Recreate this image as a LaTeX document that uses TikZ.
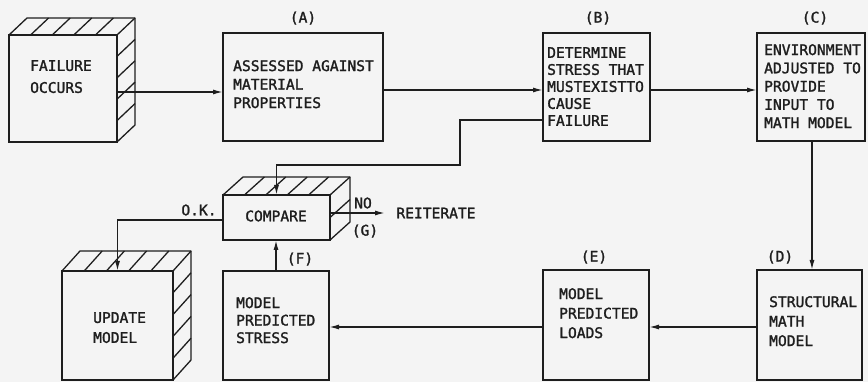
\documentclass[tikz,border=0pt]{standalone}
\usepackage{fontspec}
\setmainfont{DejaVu Sans Mono}[FakeBold=1.6]
\usetikzlibrary{calc,arrows.meta}
\definecolor{ink}{RGB}{30,30,30}
\definecolor{bg}{RGB}{244,244,244}
\tikzset{
  box/.style={draw=ink, line width=1.3pt, rectangle, inner sep=0pt, outer sep=0pt},
  boxline/.style={draw=ink, line width=1.3pt, line join=round},
  arr/.style={draw=ink, line width=1.4pt, -{Latex[length=10pt,width=5pt]}},
  pitch/.style={font=\fontsize{14.6}{#1}\selectfont},
  txt/.style={inner sep=0pt, anchor=north west, align=left, text=ink, pitch=18},
  lbl/.style={inner sep=0pt, text=ink, font=\fontsize{14.6}{18}\selectfont},
}
% #1 node, #2 dx, #3 dy, #4 interior top stripes, #5 interior side stripes
\newcommand\cubehatch[5]{%
  \draw[boxline] (#1.north west) -- ++(#2,#3) -- ($(#1.north east)+(#2,#3)$)
     -- ($(#1.south east)+(#2,#3)$) -- (#1.south east);
  \draw[boxline] (#1.north east) -- ++(#2,#3);
  \foreach \k in {1,...,#4}
    \draw[boxline] ($(#1.north west)!{\k/(#4+1)}!(#1.north east)$) -- ++(#2,#3);
  \foreach \k in {1,...,#5}
    \draw[boxline] ($(#1.north east)!{\k/(#5+1)}!(#1.south east)$) -- ++(#2,#3);
}
\begin{document}
\begin{tikzpicture}[x=1pt,y=-1pt]
\useasboundingbox (0,0) rectangle (868,382);
\fill[bg] (0,0) rectangle (868,382);

% boxes
\node[box, minimum width=108pt, minimum height=107pt] (fail) at (63,88.5) {};
\node[box, minimum width=160pt, minimum height=108pt] (A) at (303,87) {};
\node[box, minimum width=107pt, minimum height=108pt] (B) at (596.5,87) {};
\node[box, minimum width=108pt, minimum height=108pt] (C) at (811,87) {};
\node[box, minimum width=105pt, minimum height=110pt] (D) at (809.5,325) {};
\node[box, minimum width=106pt, minimum height=110pt] (E) at (596,325) {};
\node[box, minimum width=106pt, minimum height=109pt] (F) at (276,325.5) {};
\node[box, minimum width=107pt, minimum height=45pt] (cmp) at (276.5,217.5) {};
\node[box, minimum width=111pt, minimum height=109pt] (upd) at (117.5,325.5) {};

\cubehatch{fail}{18}{-17}{4}{4}
\cubehatch{cmp}{20}{-18}{4}{1}
\cubehatch{upd}{18}{-20}{4}{4}

% texts
\node[txt, pitch=22] (failT) at (30,60) {FAILURE\\OCCURS};
\node[txt, pitch=18.5] (AT) at (233,60) {ASSESSED AGAINST\\MATERIAL\\PROPERTIES};
\node[txt, pitch=17] (BT) at (547,47) {DETERMINE\\STRESS THAT\\MUSTEXISTTO\\CAUSE\\FAILURE};
\node[txt, pitch=18.25] (CT) at (764,44) {ENVIRONMENT\\ADJUSTED TO\\PROVIDE\\INPUT TO\\MATH MODEL};
\node[txt, pitch=19.5] (DT) at (769,296) {STRUCTURAL\\MATH\\MODEL};
\node[txt, pitch=19.5] (ET) at (559,288) {MODEL\\PREDICTED\\LOADS};
\node[txt, pitch=17.5] (FT) at (236,297) {MODEL\\PREDICTED\\STRESS};
\node[txt, pitch=20] (updT) at (93,312) {UPDATE\\MODEL};
\node[lbl] (cmpT) at (276,216) {COMPARE};

% labels
\node[lbl] (lA) at (303,18) {(A)};
\node[lbl] (lB) at (598,18) {(B)};
\node[lbl] (lC) at (815,18) {(C)};
\node[lbl] (lD) at (780,257) {(D)};
\node[lbl] (lE) at (594,257) {(E)};
\node[lbl] (lF) at (300,259) {(F)};
\node[lbl] (lG) at (365,231) {(G)};
\node[lbl] (lNO) at (363,203) {NO};
\node[lbl] (reit) at (436,213) {REITERATE};
\node[lbl] (lOK) at (199,210) {O.K.};
\coordinate (reitin) at (385,213);

% connectors
\draw[arr] ([yshift=-3.5pt]fail.east) -- ([yshift=-3.5pt]fail.east -| A.west);
\draw[arr] ([yshift=-3pt]A.east) -- ([yshift=-3pt]B.west);
\draw[arr] ([yshift=-3pt]B.east) -- ([yshift=-3pt]C.west);
\draw[arr] ([xshift=1pt]C.south) -- ([xshift=1pt]C.south |- D.north);
\draw[arr] ([yshift=-2pt]D.west) -- ([yshift=-2pt]D.west -| E.east);
\draw[arr] ([yshift=-2pt]E.west) -- ([yshift=-2pt]E.west -| F.east);
\draw[arr] (F.north) -- (F.north |- cmp.south);
\draw[arr] ([yshift=-33pt]B.west) -- ++(-83,0) -- ++(0,45) -| (cmp.north);
\draw[arr] ([yshift=-2.5pt]cmp.west) -| (upd.north);
\draw[arr] (cmp.east |- reitin) -- (reitin);
\end{tikzpicture}
\end{document}
